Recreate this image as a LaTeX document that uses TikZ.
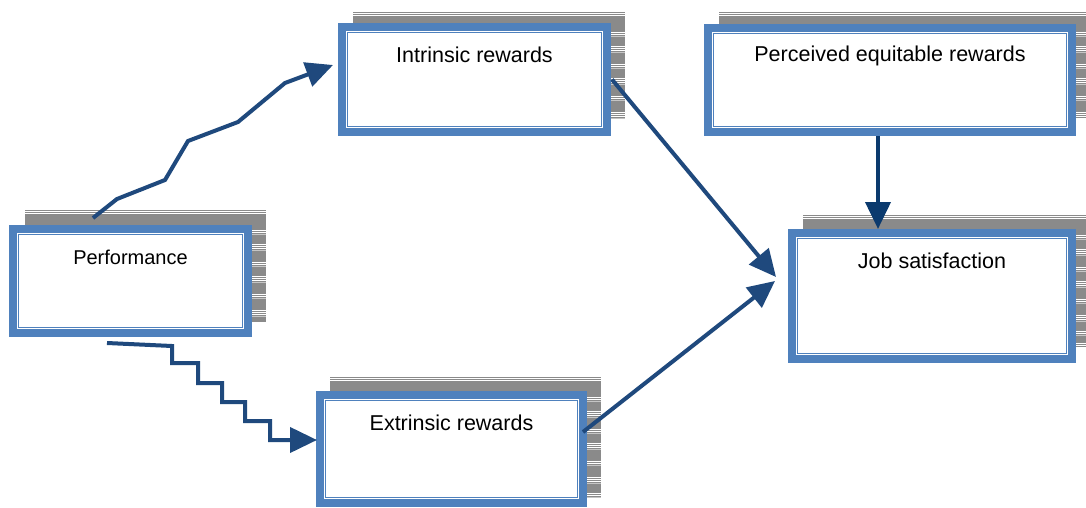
\documentclass[tikz,border=0pt]{standalone}
\usepackage{fontspec}
\setmainfont{Liberation Sans}
\usetikzlibrary{arrows.meta}
\definecolor{frameblue}{HTML}{4F81BD}
\definecolor{arrowblue}{HTML}{1F497D}
\definecolor{darkarrow}{HTML}{0B3A6E}
\definecolor{shadowgray}{HTML}{8A8A8A}
\newcommand\stripedshadow[4]{%
  \fill[shadowgray] (#1,#2) rectangle (#3,#4);
  \begin{scope}
    \clip (#1,#2) rectangle (#3,#4);
    \foreach \d in {1.5,3.5,20,22,34,36,38,52,54,66,68,70,84,86,100,102,104,116,118,128,130,140}
      \draw[white,line width=0.7pt] (#1,{#2+\d}) -- (#3,{#2+\d});
    \foreach \d in {24,40,56,72,88,106,120}
      \draw[shadowgray!50,line width=0.7pt] (#1,{#2+\d}) -- (#3,{#2+\d});
  \end{scope}}
\tikzset{
  framebox/.style={draw=frameblue, line width=10pt, fill=white, inner sep=0pt, outer sep=0pt},
  boxtext/.style={font=\fontsize{21.5}{25}\selectfont, anchor=center, yshift=-27pt},
  conn/.style={draw=arrowblue, line width=4pt, line join=miter, -{Triangle[length=27pt,width=25pt]}},
  innerline/.style={draw=white, line width=1.2pt}
}
\begin{document}
\begin{tikzpicture}[x=1pt,y=-1pt]
\useasboundingbox[fill=white] (0,0) rectangle (1086,508);
% shadows
\stripedshadow{25}{210}{266}{322}
\stripedshadow{353}{12}{625}{119}
\stripedshadow{719}{12}{1090}{118}
\stripedshadow{803}{215}{1090}{347}
\stripedshadow{330}{377}{601}{498}
% boxes
\node[framebox, minimum width=233pt, minimum height=102pt,
  label={[boxtext, font=\fontsize{20}{24}\selectfont]north:Performance}] (perf) at (130.5,281) {};
\node[framebox, minimum width=263pt, minimum height=103pt,
  label={[boxtext]north:Intrinsic rewards}] (intr) at (474.5,79.5) {};
\node[framebox, minimum width=261pt, minimum height=106pt,
  label={[boxtext]north:Extrinsic rewards}] (extr) at (451.5,449) {};
\node[framebox, minimum width=362pt, minimum height=102pt,
  label={[boxtext]north:Perceived equitable rewards}] (perc) at (890,80) {};
\node[framebox, minimum width=278pt, minimum height=124pt,
  label={[boxtext]north:Job satisfaction}] (job) at (932,296) {};
% inner white lines
\foreach \b in {perf,intr,extr,perc,job}
  \draw[innerline] ([shift={(3.5pt,-3.5pt)}]\b.north west) rectangle ([shift={(-3.5pt,3.5pt)}]\b.south east);
% connectors
\coordinate (s1) at ([shift={(79pt,12pt)}]perf.north west);
\coordinate (t1) at ([shift={(-10pt,14.5pt)}]intr.west);
\draw[conn] (s1) -- ++(24,-19) -- ++(48,-19) -- ++(23,-39) -- ++(50,-19) -- ++(47,-39) -- (t1);
\coordinate (s2) at ([shift={(93pt,-11pt)}]perf.south west);
\coordinate (t2) at ([shift={(-4pt,9pt)}]extr.west);
\draw[conn] (s2) -- ++(65,3) -- ++(0,17) -- ++(26,0) -- ++(0,20) -- ++(24,0) -- ++(0,19) -- ++(23,0) -- ++(0,19) -- ++(25,0) -- ++(0,19) -- (t2);
\coordinate (s3) at ([shift={(6pt,0pt)}]intr.east);
\coordinate (t3) at ([shift={(-17pt,19pt)}]job.west);
\draw[conn] (s3) -- (t3);
\coordinate (s4) at ([shift={(1pt,17pt)}]extr.east);
\coordinate (t4) at ([shift={(-18pt,15pt)}]job.west);
\draw[conn] (s4) -- (t4);
\coordinate (s5) at ([shift={(-12pt,-5pt)}]perc.south);
\coordinate (t5) at ([shift={(-54pt,5pt)}]job.north);
\draw[conn, draw=darkarrow] (s5) -- (t5);
\end{tikzpicture}
\end{document}
